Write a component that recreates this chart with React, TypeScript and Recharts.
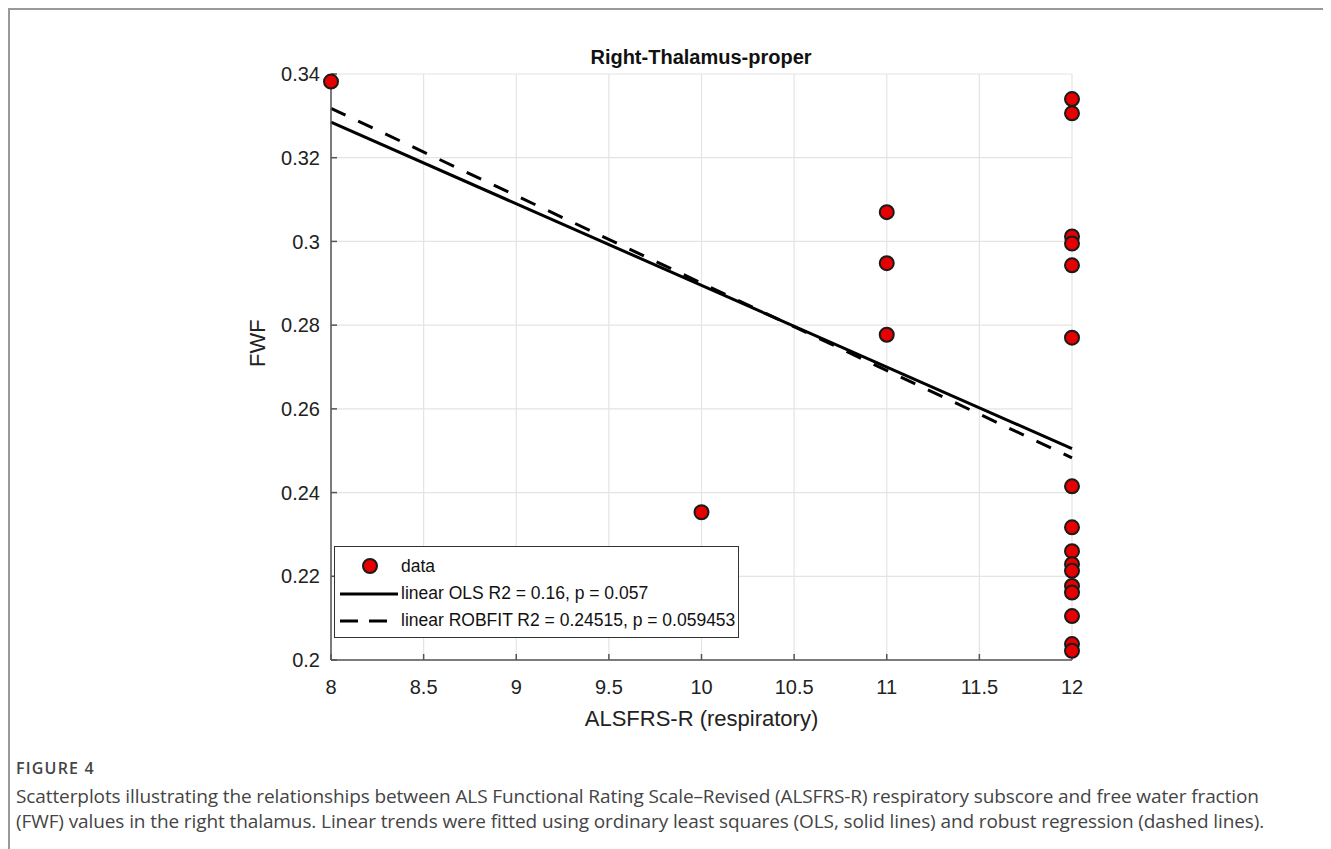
import { ScatterChart, Scatter, XAxis, YAxis, CartesianGrid, ReferenceLine } from "recharts"

// ALSFRS-R respiratory subscore vs FWF (right thalamus)
const xScores = [8, 10, 11, 11, 11, 12, 12, 12, 12, 12, 12, 12, 12, 12, 12, 12, 12, 12, 12, 12, 12]
const fwfValues = [
  0.3382, 0.2353, 0.307, 0.2948, 0.2777, 0.334, 0.3306, 0.3012, 0.2995, 0.2943, 0.277,
  0.2415, 0.2317, 0.226, 0.2229, 0.2213, 0.2177, 0.2161, 0.2105, 0.2038, 0.2022,
]

const olsLine = [
  { x: 8, y: 0.3285 },
  { x: 12, y: 0.2505 },
]
const robfitLine = [
  { x: 8, y: 0.3318 },
  { x: 12, y: 0.2483 },
]

const xTicks = [8, 8.5, 9, 9.5, 10, 10.5, 11, 11.5, 12]
const yTicks = [0.2, 0.22, 0.24, 0.26, 0.28, 0.3, 0.32, 0.34]

const legendLabels = ["data", "linear OLS R2 = 0.16, p = 0.057", "linear ROBFIT R2 = 0.24515, p = 0.059453"]

const points = xScores.map((x, i) => ({ x, y: fwfValues[i] }))

const FONT = "'Liberation Sans', Arial, sans-serif"

function Dot(props: any) {
  const { cx, cy } = props
  return <circle cx={cx} cy={cy} r={7} fill="#e60000" stroke="#1a1a1a" strokeWidth={2} />
}

function LegendBox() {
  return (
    <div
      style={{
        position: "absolute",
        left: 324,
        top: 536,
        width: 403,
        height: 90,
        border: "1.5px solid #333",
        background: "#fff",
        fontFamily: FONT,
        fontSize: 17.5,
        color: "#111",
      }}
    >
      <svg width={70} height={90} style={{ position: "absolute", left: 0, top: 0 }}>
        <circle cx={35} cy={19} r={7} fill="#e60000" stroke="#1a1a1a" strokeWidth={2} />
        <line x1={5} x2={63} y1={47} y2={47} stroke="#000" strokeWidth={3} />
        <line x1={5} x2={63} y1={74} y2={74} stroke="#000" strokeWidth={3} strokeDasharray="18 11" />
      </svg>
      {legendLabels.map((t, i) => (
        <div key={t} style={{ position: "absolute", left: 66, top: 8 + i * 27, lineHeight: "22px", whiteSpace: "nowrap" }}>
          {t}
        </div>
      ))}
    </div>
  )
}

export default function App() {
  return (
    <div
      style={{
        position: "relative",
        width: 1323,
        height: 841,
        borderTop: "2px solid #999",
        borderLeft: "2px solid #999",
        boxSizing: "border-box",
        background: "#fff",
      }}
    >
      <div
        style={{
          position: "absolute",
          left: 0,
          width: 1382,
          top: 36,
          textAlign: "center",
          fontFamily: FONT,
          fontWeight: "bold",
          fontSize: 20,
          color: "#111",
        }}
      >
        Right-Thalamus-proper
      </div>
      <div style={{ position: "absolute", left: 0, top: 0 }}>
        <ScatterChart width={1315} height={740} margin={{ top: 64, right: 253, bottom: 20, left: 241 }}>
          <CartesianGrid stroke="#e4e4e4" strokeWidth={1.2} />
          <XAxis
            type="number"
            dataKey="x"
            domain={[8, 12]}
            ticks={xTicks}
            interval={0}
            height={70}
            stroke="#555"
            strokeWidth={1.5}
            tickSize={-6}
            tickMargin={26}
            tick={{ fill: "#222", fontSize: 20, fontFamily: FONT }}
            label={{ value: "ALSFRS-R (respiratory)", position: "insideBottom", offset: 4, fill: "#222", fontSize: 22, fontFamily: FONT }}
          />
          <YAxis
            type="number"
            dataKey="y"
            domain={[0.2, 0.34]}
            ticks={yTicks}
            interval={0}
            width={80}
            stroke="#555"
            strokeWidth={1.5}
            tickSize={-6}
            tickMargin={17}
            tickFormatter={(v: number) => String(Number(v.toFixed(2)))}
            tick={{ fill: "#222", fontSize: 20, fontFamily: FONT }}
            label={{ value: "FWF", angle: -90, position: "insideLeft", offset: 6, fill: "#222", fontSize: 22, fontFamily: FONT }}
          />
          <Scatter data={points} shape={<Dot />} isAnimationActive={false} />
          <ReferenceLine segment={olsLine} stroke="#000" strokeWidth={3} ifOverflow="visible" />
          <ReferenceLine segment={robfitLine} stroke="#000" strokeWidth={3} strokeDasharray="16 14" ifOverflow="visible" />
        </ScatterChart>
      </div>
      <LegendBox />
      <div
        style={{
          position: "absolute",
          left: 6,
          top: 747,
          fontFamily: "'Open Sans', 'Noto Sans', sans-serif",
          color: "#444",
          whiteSpace: "nowrap",
        }}
      >
        <div style={{ fontSize: 16, fontWeight: 600, letterSpacing: 1.2, marginBottom: 5 }}>FIGURE 4</div>
        <div style={{ fontSize: 19, lineHeight: "25px", letterSpacing: -0.1 }}>
          Scatterplots illustrating the relationships between ALS Functional Rating Scale–Revised (ALSFRS-R) respiratory
          subscore and free water fraction
          <br />
          (FWF) values in the right thalamus. Linear trends were fitted using ordinary least squares (OLS, solid lines) and
          robust regression (dashed lines).
        </div>
      </div>
    </div>
  )
}
